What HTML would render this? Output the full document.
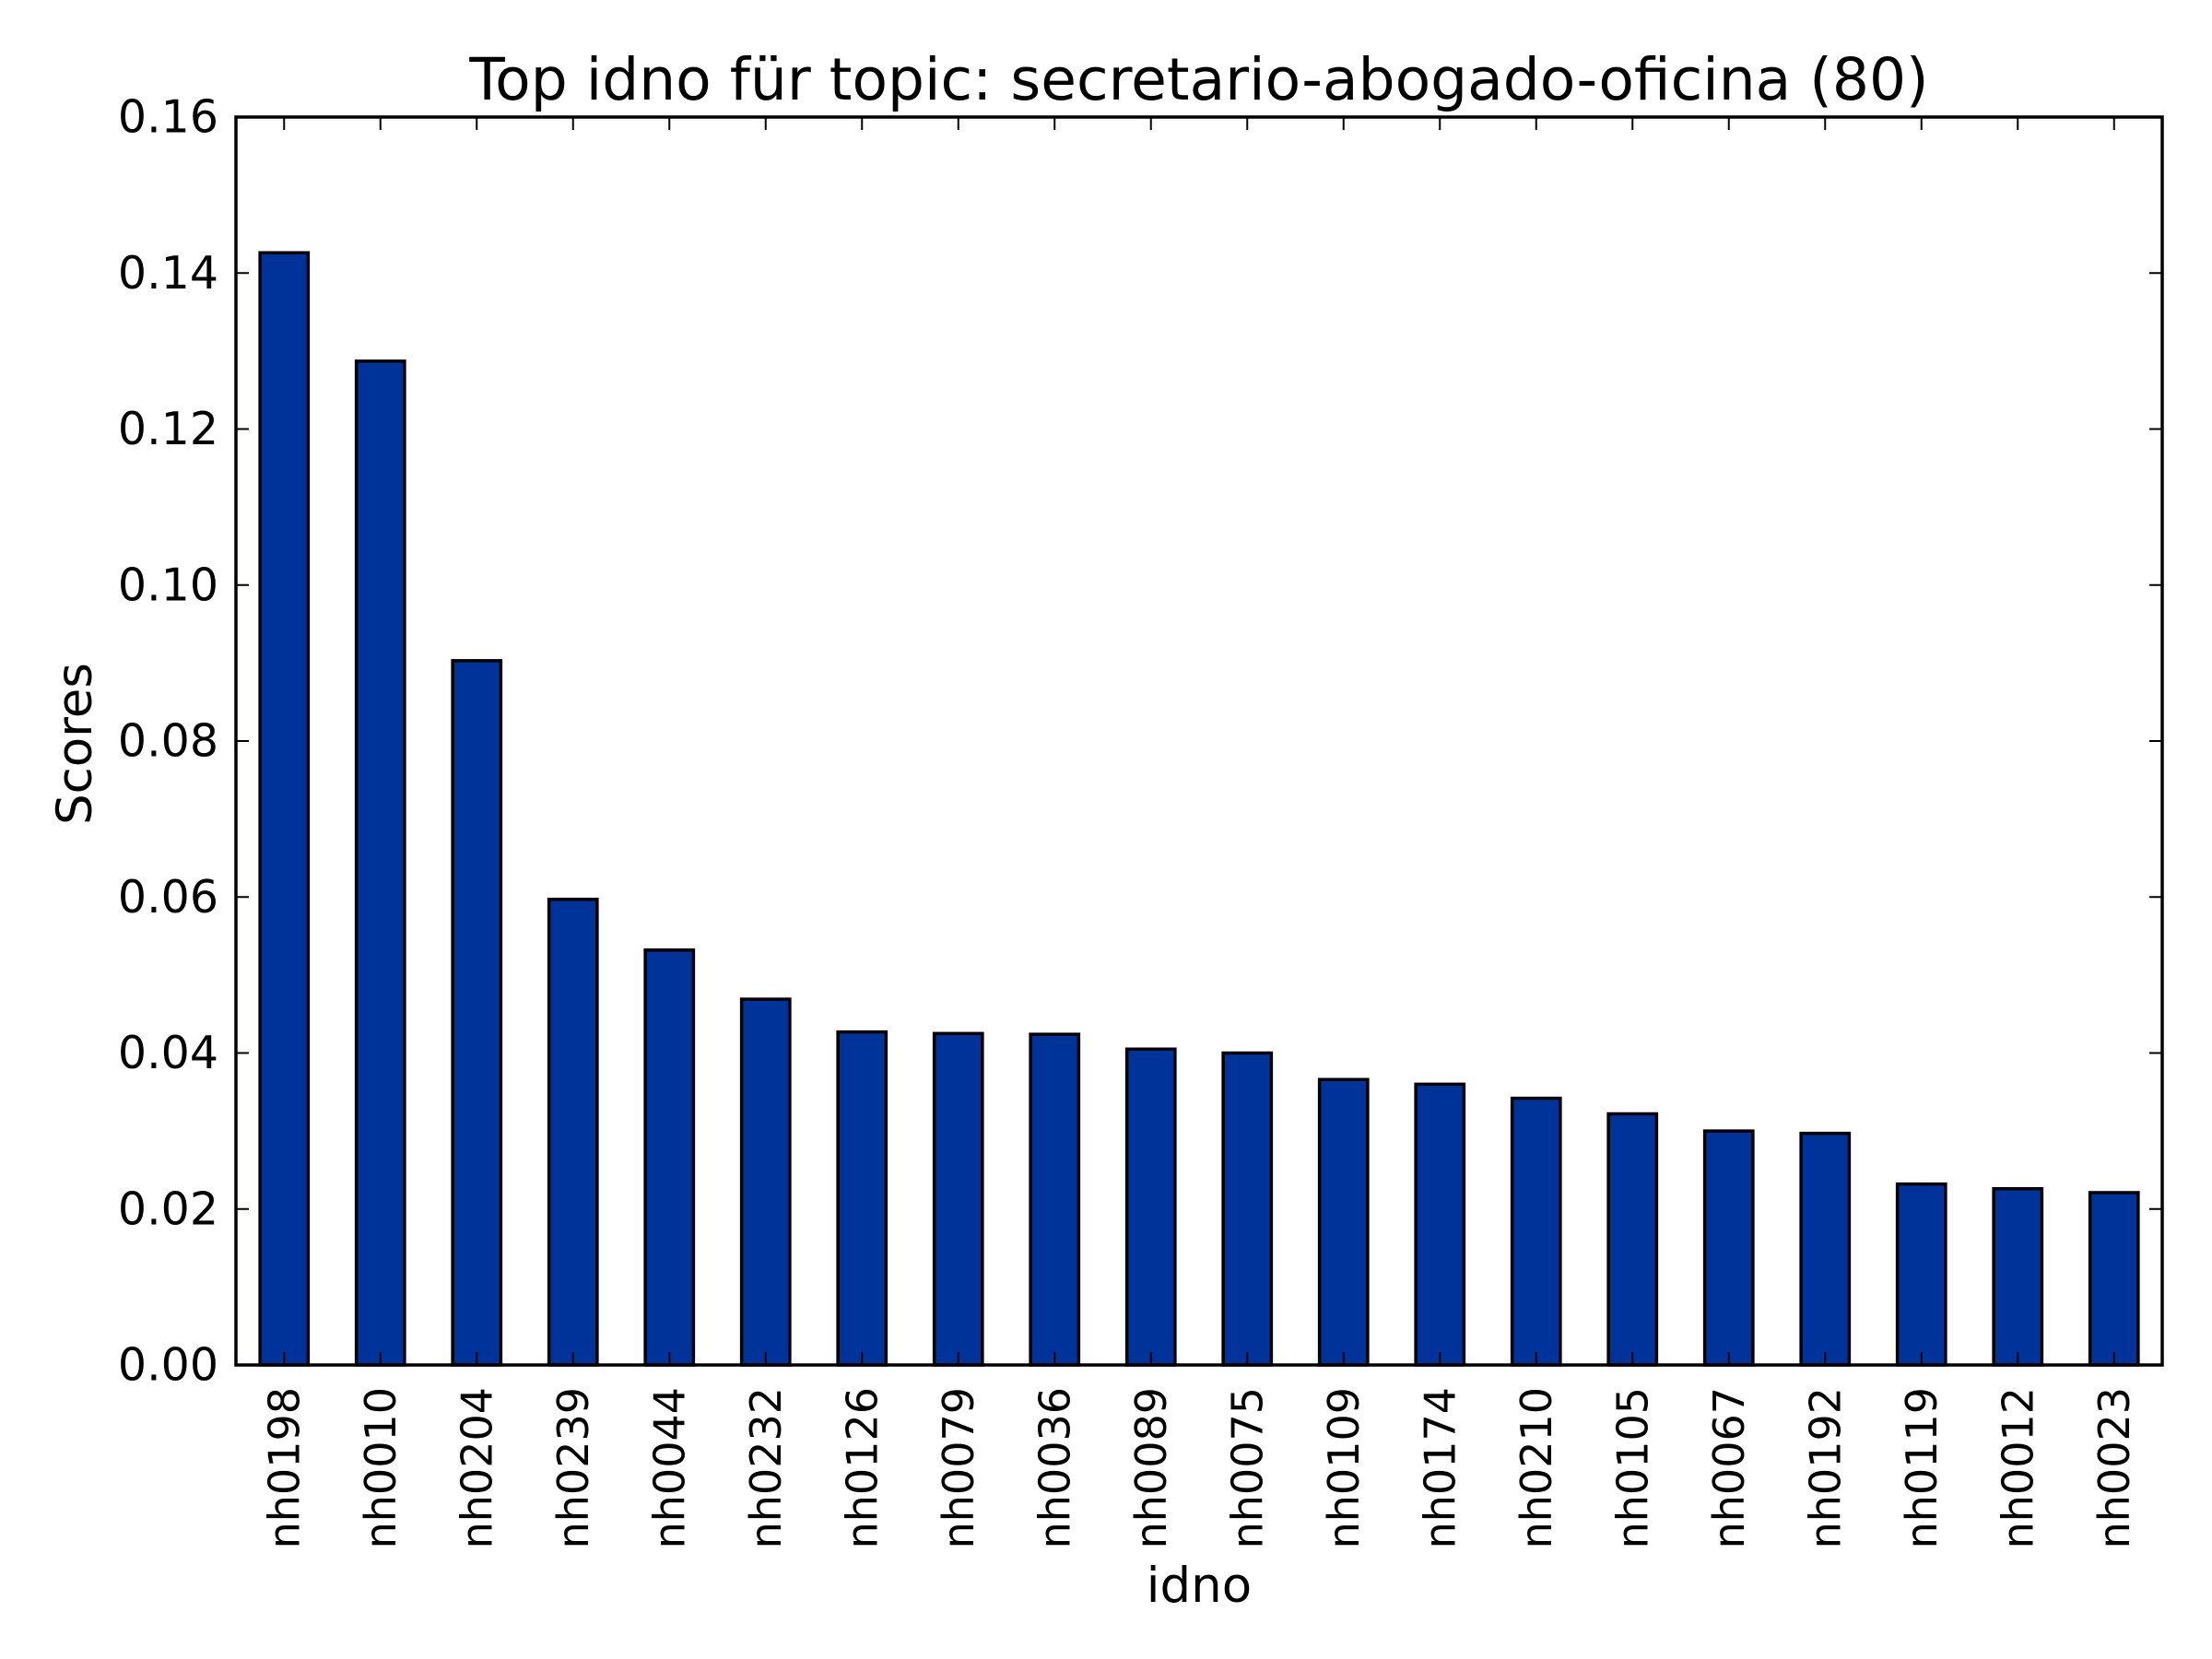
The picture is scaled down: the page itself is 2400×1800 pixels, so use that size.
<!DOCTYPE html>
<html><head><meta charset="utf-8"><style>
html,body{margin:0;padding:0;background:#fff;}
svg{display:block;font-family:"DejaVu Sans","Liberation Sans",sans-serif;}
</style></head><body>
<svg id="chart" width="2400" height="1800" viewBox="0 0 2400 1800">
<rect x="0" y="0" width="2400" height="1800" fill="#fff"/>
<g id="bars"></g>
<g id="axes"></g>
<text x="1301" y="108" font-size="63" text-anchor="middle">Top idno für topic: secretario-abogado-oficina (80)</text>
<text x="1301" y="1738" font-size="53" text-anchor="middle">idno</text>
<text x="0" y="0" font-size="53" text-anchor="middle" transform="translate(99,807) rotate(-90)">Scores</text>
</svg>
<script>
const categories = ["nh0198","nh0010","nh0204","nh0239","nh0044","nh0232","nh0126","nh0079","nh0036","nh0089","nh0075","nh0109","nh0174","nh0210","nh0105","nh0067","nh0192","nh0119","nh0012","nh0023"];
const scores = [0.1426,0.1287,0.0903,0.0597,0.0532,0.0469,0.0427,0.0425,0.0424,0.0405,0.0400,0.0366,0.0360,0.0342,0.0322,0.0300,0.0297,0.0232,0.0226,0.0221];
const yTicks = [0,0.02,0.04,0.06,0.08,0.10,0.12,0.14,0.16];
const yTickLabels = ["0.00","0.02","0.04","0.06","0.08","0.10","0.12","0.14","0.16"];

const NS = "http://www.w3.org/2000/svg";
const L = 256, R = 2346, T = 127, B = 1481, YMAX = 0.16;
const step = (R - L) / categories.length;
function xCenter(i){ return L + step * (i + 0.5); }
function y(v){ return B - (v / YMAX) * (B - T); }
function mk(tag, attrs){ const e = document.createElementNS(NS, tag); for (const k in attrs) e.setAttribute(k, attrs[k]); return e; }

const bars = document.getElementById('bars');
const axes = document.getElementById('axes');
const bw = step * 0.5;
categories.forEach((c, i) => {
  const r = mk('rect', {x: xCenter(i) - bw/2, y: y(scores[i]), width: bw, height: B - y(scores[i]), fill: '#003399', stroke: '#000', 'stroke-width': 3.5});
  
  
  bars.appendChild(r);
  const tb = mk('line', {x1: xCenter(i), x2: xCenter(i), y1: B, y2: B - 14, stroke: '#000', 'stroke-width': 2});
  
  
  axes.appendChild(tb);
  const tt = mk('line', {x1: xCenter(i), x2: xCenter(i), y1: T, y2: T + 14, stroke: '#000', 'stroke-width': 2});
  
  
  axes.appendChild(tt);
  const lab = mk('text', {x: 0, y: 0, 'font-size': 46, 'text-anchor': 'end', 'dominant-baseline': 'central', transform: 'translate(' + xCenter(i) + ',' + (B + 24) + ') rotate(-90)'});
  lab.textContent = c;
  
  
  axes.appendChild(lab);
});
yTicks.forEach((v, i) => {
  const a = mk('line', {x1: L, x2: L + 14, y1: y(v), y2: y(v), stroke: '#000', 'stroke-width': 2});
  
  
  axes.appendChild(a);
  const b = mk('line', {x1: R, x2: R - 14, y1: y(v), y2: y(v), stroke: '#000', 'stroke-width': 2});
  
  
  axes.appendChild(b);
  const t = mk('text', {x: 237, y: y(v), 'font-size': 49, 'text-anchor': 'end', 'dominant-baseline': 'central'});
  t.textContent = yTickLabels[i];
  
  
  axes.appendChild(t);
});
const frame = mk('rect', {x: L, y: T, width: R - L, height: B - T, fill: 'none', stroke: '#000', 'stroke-width': 3.5});


axes.appendChild(frame);
</script>
</body></html>
